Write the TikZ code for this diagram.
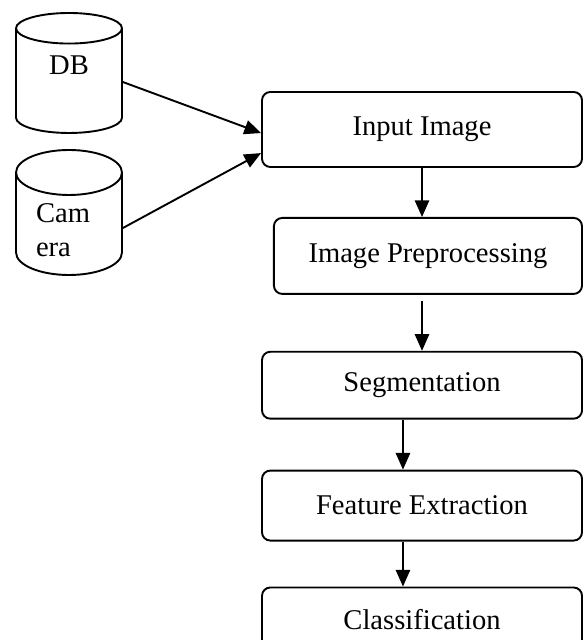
\documentclass[tikz,border=0pt]{standalone}
\usepackage{fontspec}
\setmainfont{Liberation Serif}
\usetikzlibrary{arrows.meta,shapes.geometric,positioning}

\begin{document}
\begin{tikzpicture}[
    x = 0.42pt, y = -0.42pt, % one unit per pixel, y going down
    > = {Triangle[length=7pt,width=6pt]}, % arrow head style
    thick, % line style
    font = \fontsize{12}{14}\selectfont
    ]

    \tikzset{stage/.style={
    draw = black,
    rounded corners = 3.5pt,
    minimum width = 134.4pt,
    inner sep = 0pt
    }}
    \tikzset{store/.style={
    draw = black,
    cylinder,
    shape border rotate = 90,
    aspect = 0.55,
    minimum width = 44.5pt,
    minimum height = 50.4pt,
    anchor = shape center
    }}

    % fixed frame, the last box runs off the bottom
    \clip (0,0) rectangle (583,640);

    \node[store, text depth=16.8pt] (db) at (69,73) {DB};
    \node[store, text width=27.7pt, align=left] (cam) at (69,212.5) {Cam\\era};

    \node[stage, minimum height=31.5pt] (input) at (422,129.5) {Input Image};
    \node[stage, minimum height=31.9pt, minimum width=129.4pt,
          below=20.6pt of input.south east, anchor=north east] (prep) {Image Preprocessing};
    \node[stage, minimum height=28.1pt,
          below=23.5pt of prep.south east, anchor=north east] (seg) {Segmentation};
    \node[stage, minimum height=29.4pt,
          below=21pt of seg.south east, anchor=north east] (feat) {Feature Extraction};
    \node[stage, minimum height=27.3pt,
          below=18.9pt of feat.south east, anchor=north east] (cls) {Classification};

    \draw[->] ([yshift=-3.8pt]db.shape center -| db.east) -- ([yshift=-1.5pt]input.west);
    \draw[->] ([yshift=-6.5pt]cam.shape center -| cam.east) -- ([yshift=-9.9pt]input.west);
    \draw[->] (input) -- (input |- prep.north);
    \draw[->, shorten <=2.5pt] (seg |- prep.south) -- (seg);
    \draw[->] ([xshift=-8pt]seg.south) -- ([xshift=-8pt]feat.north);
    \draw[->] ([xshift=-8pt]feat.south) -- ([xshift=-8pt]cls.north);
\end{tikzpicture}
\end{document}
